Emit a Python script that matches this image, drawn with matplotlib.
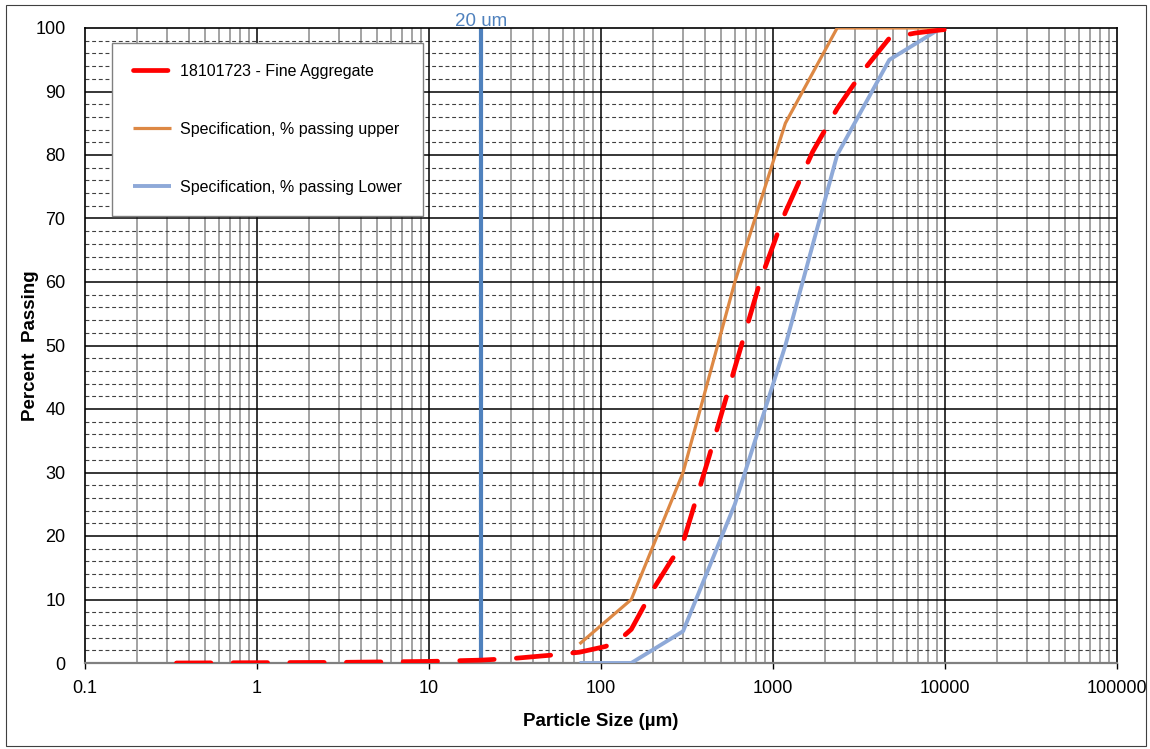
import matplotlib
matplotlib.use("Agg")
import matplotlib.pyplot as plt
from matplotlib.patches import Rectangle
from matplotlib.ticker import FixedLocator, NullFormatter

plt.rcParams['font.family'] = ['Liberation Sans', 'DejaVu Sans']

# ---- data ----
fine_sizes = [0.34, 1, 3, 10, 20, 32, 52, 75, 106, 125, 150, 200, 250, 300,
              425, 600, 850, 1180, 1700, 2360, 3350, 4750, 6700, 9500, 12500]
fine_pass = [0.0, 0.05, 0.1, 0.25, 0.45, 0.75, 1.25, 1.7, 2.6, 3.4, 5.3, 11.5,
             15.7, 19.0, 32.5, 46.5, 60.5, 71.0, 80.5, 87.3, 93.3, 98.4, 99.2,
             99.7, 100.0]

spec_sizes = [75, 150, 300, 600, 1180, 2360, 4750, 9500]
spec_upper = [3, 10, 30, 60, 85, 100, 100, 100]
spec_lower = [0, 0, 5, 25, 50, 80, 95, 100]

marker_size = 20
marker_label = "20 um"

x_ticks = [0.1, 1, 10, 100, 1000, 10000, 100000]
x_ticklabels = ["0.1", "1", "10", "100", "1000", "10000", "100000"]
y_ticks = [0, 10, 20, 30, 40, 50, 60, 70, 80, 90, 100]

label_fine = "18101723 - Fine Aggregate"
label_upper = "Specification, % passing upper"
label_lower = "Specification, % passing Lower"

# ---- figure ----
W, H = 1150, 749
fig = plt.figure(figsize=(W / 100, H / 100), dpi=100)
fig.patch.set_facecolor('white')
fig.add_artist(Rectangle((6 / W, 1 - 746 / H), 1140 / W, 741 / H,
                         transform=fig.transFigure, fill=False,
                         edgecolor='#404040', lw=0.8))

ax = fig.add_axes([85 / W, 1 - 663 / H, (1117 - 85) / W, (663 - 28) / H])
ax.set_xscale('log')
ax.set_xlim(0.1, 100000)
ax.set_ylim(0, 100)

# grid lines
minor_x = [m * 10.0 ** e for e in range(-1, 5) for m in range(2, 10)]
for mx in minor_x:
    ax.axvline(mx, color='#8a8a8a', lw=1.1, zorder=1)
for Mx in x_ticks[1:-1]:
    ax.axvline(Mx, color='black', lw=1.1, zorder=1.5)
for my in range(2, 100, 2):
    if my % 10:
        ax.axhline(my, color='#404040', lw=0.8, ls=(0, (3.5, 2.5)), zorder=1)
for My in y_ticks[1:-1]:
    ax.axhline(My, color='black', lw=1.1, zorder=1.5)

# data lines
ax.axvline(marker_size, color='#4F81BD', lw=3.0, zorder=2)
ax.annotate(marker_label, xy=(marker_size, 100), xytext=(0, 1.5),
            textcoords='offset points', ha='center', va='baseline',
            color='#4F81BD', fontsize=13.5)

l_up, = ax.plot(spec_sizes, spec_upper, color='#DD8844', lw=2.3,
                label=label_upper, zorder=3, solid_capstyle='butt')
l_low, = ax.plot(spec_sizes, spec_lower, color='#8EA9D8', lw=2.8,
                 label=label_lower, zorder=3, solid_capstyle='butt')
l_fine, = ax.plot(fine_sizes, fine_pass, color='#FF0000', lw=3.4,
                  ls=(0, (7.3, 4.7)), dash_capstyle='round',
                  label=label_fine, zorder=4)

# axes styling
for s in ax.spines.values():
    s.set_color('black')
    s.set_linewidth(1.2)
ax.spines['bottom'].set_color('#808080')
ax.spines['bottom'].set_linewidth(1.6)

ax.xaxis.set_major_locator(FixedLocator(x_ticks))
ax.set_xticklabels(x_ticklabels)
ax.xaxis.set_minor_formatter(NullFormatter())
ax.tick_params(axis='x', which='major', length=4, width=1, direction='out',
               pad=8, labelsize=13)
ax.tick_params(axis='x', which='minor', length=0)
ax.set_yticks(y_ticks)
ax.tick_params(axis='y', which='major', length=0, pad=14, labelsize=13)

ax.set_xlabel("Particle Size (µm)", fontsize=13.5, fontweight='bold',
              labelpad=12)
ax.set_ylabel("Percent  Passing", fontsize=13.5, fontweight='bold')
ax.yaxis.set_label_coords(-0.045, 0.5)

leg = ax.legend(handles=[l_fine, l_up, l_low],
                loc='upper left', bbox_to_anchor=(27 / (1117 - 85), 1 - 15 / 635),
                fontsize=11.5, frameon=True, fancybox=False, framealpha=1,
                edgecolor='#808080', borderpad=1.3, labelspacing=2.7,
                handlelength=2.4, handletextpad=0.55, borderaxespad=0)
leg.get_frame().set_linewidth(1.0)
leg.set_zorder(5)

fig.savefig("out.png", dpi=100, facecolor='white')
